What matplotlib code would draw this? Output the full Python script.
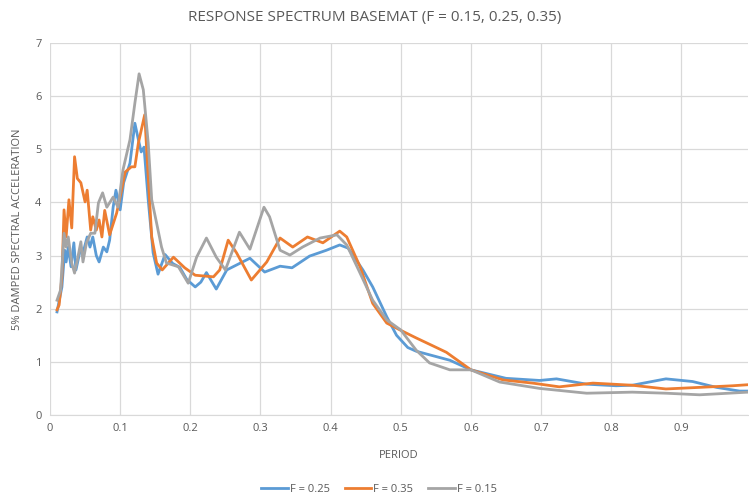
import matplotlib
matplotlib.use("Agg")
import matplotlib.pyplot as plt

plt.rcParams['font.family'] = ['Open Sans', 'DejaVu Sans']

x_025 = [0.01, 0.017, 0.021, 0.023, 0.026, 0.03, 0.034, 0.037, 0.044, 0.047, 0.053, 0.057, 0.061, 0.066,
         0.07, 0.076, 0.081, 0.085, 0.09, 0.094, 0.1, 0.105, 0.114, 0.121, 0.126, 0.13, 0.134, 0.14,
         0.147, 0.154, 0.164, 0.175, 0.185, 0.195, 0.207, 0.215, 0.223, 0.237, 0.252, 0.27, 0.285,
         0.306, 0.328, 0.345, 0.37, 0.394, 0.413, 0.425, 0.446, 0.46, 0.48, 0.494, 0.51, 0.522, 0.57,
         0.6, 0.65, 0.698, 0.722, 0.765, 0.807, 0.83, 0.878, 0.916, 0.95, 0.983, 0.995]
y_025 = [1.94, 2.41, 3.1, 2.88, 3.16, 2.79, 3.24, 2.73, 3.16, 3.05, 3.35, 3.16, 3.35, 3.0,
         2.88, 3.16, 3.07, 3.29, 3.91, 4.23, 3.86, 4.37, 4.74, 5.49, 5.18, 4.95, 5.04, 4.05,
         3.05, 2.65, 3.02, 2.85, 2.78, 2.55, 2.41, 2.5, 2.68, 2.37, 2.73, 2.85, 2.95,
         2.69, 2.8, 2.77, 2.99, 3.1, 3.2, 3.14, 2.73, 2.41, 1.85, 1.5, 1.27, 1.2, 1.03,
         0.85, 0.69, 0.65, 0.68, 0.58, 0.55, 0.56, 0.68, 0.63, 0.52, 0.45, 0.45]

x_035 = [0.01, 0.013, 0.017, 0.02, 0.023, 0.027, 0.031, 0.035, 0.039, 0.044, 0.05, 0.053, 0.058, 0.061,
         0.066, 0.07, 0.074, 0.078, 0.085, 0.095, 0.102, 0.107, 0.116, 0.121, 0.126, 0.135, 0.14,
         0.145, 0.152, 0.16, 0.176, 0.192, 0.207, 0.233, 0.242, 0.254, 0.266, 0.287, 0.309, 0.328,
         0.346, 0.367, 0.389, 0.413, 0.423, 0.442, 0.46, 0.48, 0.499, 0.522, 0.546, 0.565, 0.6,
         0.646, 0.688, 0.726, 0.774, 0.83, 0.878, 0.926, 0.973, 0.995]
y_035 = [1.98, 2.07, 2.6, 3.86, 3.35, 4.05, 3.52, 4.86, 4.45, 4.37, 4.01, 4.23, 3.48, 3.73,
         3.48, 3.67, 3.35, 3.85, 3.39, 3.8, 4.23, 4.57, 4.67, 4.67, 5.12, 5.65, 4.48,
         3.35, 2.86, 2.73, 2.97, 2.77, 2.63, 2.6, 2.73, 3.29, 3.05, 2.54, 2.88, 3.33,
         3.16, 3.35, 3.24, 3.46, 3.35, 2.79, 2.1, 1.73, 1.6, 1.45, 1.3, 1.18, 0.85,
         0.66, 0.6, 0.53, 0.6, 0.56, 0.49, 0.52, 0.55, 0.57]

x_015 = [0.01, 0.015, 0.02, 0.023, 0.026, 0.031, 0.035, 0.039, 0.044, 0.047, 0.052, 0.058, 0.064,
         0.069, 0.075, 0.081, 0.09, 0.097, 0.104, 0.114, 0.121, 0.127, 0.133, 0.14, 0.145, 0.152,
         0.159, 0.166, 0.183, 0.197, 0.209, 0.223, 0.237, 0.25, 0.27, 0.285, 0.305, 0.313, 0.328,
         0.342, 0.36, 0.385, 0.409, 0.423, 0.442, 0.46, 0.48, 0.5, 0.522, 0.541, 0.57, 0.6, 0.641,
         0.698, 0.765, 0.83, 0.878, 0.926, 0.995]
y_015 = [2.16, 2.35, 3.42, 3.16, 3.35, 2.86, 2.67, 2.92, 3.26, 2.88, 3.24, 3.42, 3.42,
         3.99, 4.18, 3.91, 4.1, 3.91, 4.61, 5.18, 5.87, 6.42, 6.12, 5.12, 4.05, 3.61,
         3.16, 2.86, 2.79, 2.48, 2.97, 3.33, 2.97, 2.73, 3.44, 3.12, 3.91, 3.73, 3.1,
         3.01, 3.16, 3.33, 3.39, 3.2, 2.67, 2.16, 1.79, 1.6, 1.22, 0.98, 0.85, 0.85, 0.62,
         0.5, 0.41, 0.43, 0.41, 0.38, 0.43]

x_ticks = [0, 0.1, 0.2, 0.3, 0.4, 0.5, 0.6, 0.7, 0.8, 0.9]
x_tick_labels = ['0', '0.1', '0.2', '0.3', '0.4', '0.5', '0.6', '0.7', '0.8', '0.9']
y_ticks = [0, 1, 2, 3, 4, 5, 6, 7]

W, H = 749, 496
fig = plt.figure(figsize=(W / 100, H / 100), dpi=100)
ax = fig.add_axes([50 / W, 1 - 415 / H, (748 - 50) / W, (415 - 43) / H])

txt = '#595959'
ax.plot(x_025, y_025, color='#5B9BD5', lw=2.0, label='F = 0.25', solid_joinstyle='round')
ax.plot(x_035, y_035, color='#ED7D31', lw=2.0, label='F = 0.35', solid_joinstyle='round')
ax.plot(x_015, y_015, color='#A5A5A5', lw=2.0, label='F = 0.15', solid_joinstyle='round')

ax.set_xlim(0, 0.995)
ax.set_ylim(0, 7)
ax.set_xticks(x_ticks)
ax.set_xticklabels(x_tick_labels)
ax.set_yticks(y_ticks)
ax.grid(True, color='#d9d9d9', lw=0.9)
ax.set_axisbelow(True)
for s in ['top', 'right', 'left']:
    ax.spines[s].set_visible(False)
ax.spines['bottom'].set_color('#d9d9d9')
ax.tick_params(length=0, colors=txt, labelsize=8, pad=6)

ax.set_xlabel('PERIOD', color=txt, fontsize=8, labelpad=11)
ax.set_ylabel('5% DAMPED SPECTRAL ACCELERATION', color=txt, fontsize=8, labelpad=9)
fig.text(0.5, 1 - 17 / H, 'RESPONSE SPECTRUM BASEMAT (F = 0.15, 0.25, 0.35)', ha='center', va='center',
         color=txt, fontsize=11)

fig.legend(loc='center', bbox_to_anchor=(379 / W, 1 - 489 / H), ncol=3, frameon=False, fontsize=8,
           labelcolor=txt, handlelength=2.4, columnspacing=1.3, handletextpad=0.2,
           borderpad=0, borderaxespad=0)

fig.savefig('out.png', dpi=100)
